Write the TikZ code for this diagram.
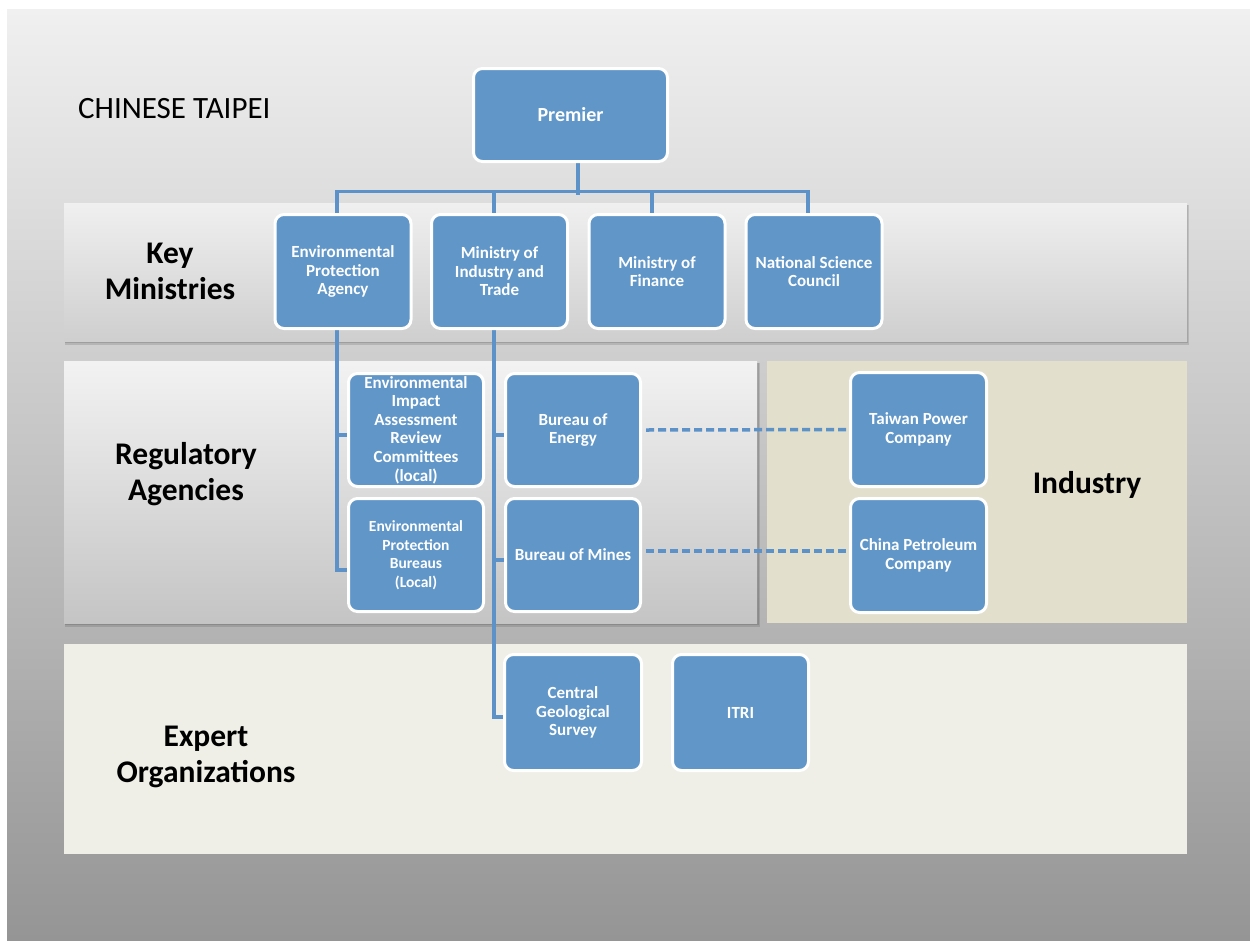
\documentclass[tikz,border=0pt]{standalone}
\usepackage{fontspec}
\setmainfont{Carlito}
\usetikzlibrary{calc}
\definecolor{boxblue}{HTML}{6096C8}
\definecolor{lineblue}{HTML}{5C92C7}
\definecolor{indfill}{HTML}{E2DFCD}
\definecolor{expfill}{HTML}{EFEFE7}
\definecolor{bgtop}{HTML}{F0F0F0}
\definecolor{bgbot}{HTML}{959595}
\pgfdeclarelayer{bands}
\pgfdeclarelayer{links}
\pgfsetlayers{bands,links,main}
\begin{document}
\begin{tikzpicture}[x=1pt,y=-1pt,
  box/.style={rounded corners=9pt, fill=boxblue, draw=white, line width=3pt, text=white,
    font=\bfseries\fontsize{17}{18.5}\selectfont, align=center, inner sep=0pt,
    minimum width=136pt, minimum height=114pt},
  subbox/.style={box, minimum width=135pt, minimum height=113pt},
  conn/.style={draw=lineblue, line width=3.5pt},
  dashconn/.style={draw=lineblue, line width=3.5pt, dash pattern=on 8pt off 4pt},
  lab/.style={font=\bfseries\fontsize{31.5}{36.5}\selectfont, align=center, text=black, inner sep=0pt},
  bandshadow/.style={fill=black, opacity=0.12}]
\useasboundingbox (0,0) rectangle (1250,940);

\begin{pgfonlayer}{bands}
\fill[white] (0,0) rectangle (1250,940);
\shade[top color=bgtop, bottom color=bgbot] (7,9) rectangle (1250,940);
\fill[bandshadow] (65,205) rectangle (1189,345);
\fill[bandshadow] (65,205) rectangle (1188,343);
\shade[top color=black!6, bottom color=black!19] (64,203) rectangle (1187,341);
\fill[bandshadow] (65,363) rectangle (760,627);
\fill[bandshadow] (65,363) rectangle (759,625);
\shade[top color=black!5, bottom color=black!23] (64,361) rectangle (757,623);
\fill[indfill] (767,361) rectangle (1187,623);
\fill[expfill] (64,644) rectangle (1187,854);
\end{pgfonlayer}

% labels
\node[anchor=base west, font=\fontsize{31}{36}\selectfont, inner sep=0pt] (title) at (78,118) {CHINESE TAIPEI};
\node[lab] (lkey) at (170,271.5) {Key\\Ministries};
\node[lab] (lreg) at (186,474) {Regulatory\\Agencies};
\node[lab, anchor=base] (lind) at (1087,493) {Industry};
\node[lab] (lexp) at (206,757) {Expert\\Organizations};

% boxes
\node[box, minimum width=194pt, minimum height=93pt, font=\bfseries\fontsize{20}{22}\selectfont] (premier) at (570.5,115) {Premier};
\node[box] (epa) at (343,271.5) {Environmental\\Protection\\Agency};
\node[box] (moit) at (499.5,271.5) {Ministry of\\Industry and\\Trade};
\node[box] (mof) at (657,271.5) {Ministry of\\Finance};
\node[box] (nsc) at (814,271.5) {National Science\\Council};
\node[subbox, font=\bfseries\fontsize{17}{18.6}\selectfont] (eia) at (416,430) {Environmental\\Impact\\Assessment\\Review\\Committees\\(local)};
\node[subbox, font=\bfseries\fontsize{15.5}{18.5}\selectfont] (epb) at (416,555) {Environmental\\Protection\\Bureaus\\(Local)};
\node[subbox] (energy) at (573,430) {Bureau of\\Energy};
\node[subbox] (mines) at (573,555) {Bureau of Mines};
\node[box] (tpc) at (918.5,429.5) {Taiwan Power\\Company};
\node[box] (cpc) at (918.5,555.5) {China Petroleum\\Company};
\node[box, minimum width=137pt, minimum height=116pt] (cgs) at (573,712.5) {Central\\Geological\\Survey};
\node[box, minimum width=136pt, minimum height=116pt] (itri) at (740.5,712.5) {ITRI};

% connectors (behind boxes)
\begin{pgfonlayer}{links}
\draw[conn] ($(premier.south)+(7.5,0)$) -- ++(0,31.5) coordinate (bus);
\draw[conn] ($(epa.north)+(-6,0)$) -- ++(0,-21.5) -| ($(nsc.north)+(-6,0)$);
\draw[conn] ($(moit.north)+(-5.5,0)$) -- ++(0,-21.5);
\draw[conn] ($(mof.north)+(-5,0)$) -- ++(0,-21.5);
% EPA branch
\draw[conn] ($(epa.south)+(-6,0)$) |- ($(epb.west)+(0,15)$);
\draw[conn] ($(eia.west)+(0,5)$) -- ++(-11.5,0);
% MoIT branch
\draw[conn] ($(moit.south)+(-5.5,0)$) |- ($(cgs.west)+(0,4.5)$);
\draw[conn] ($(energy.west)+(0,5)$) -- ++(-11.5,0);
\draw[conn] ($(mines.west)+(0,5)$) -- ++(-11.5,0);
% dashed links to industry
\draw[dashconn] ($(energy.east)+(4,0)$) -- (tpc.west);
\draw[dashconn] ($(mines.east)+(4,-4)$) -- ($(cpc.west)+(0,-4.5)$);
\end{pgfonlayer}
\end{tikzpicture}
\end{document}
